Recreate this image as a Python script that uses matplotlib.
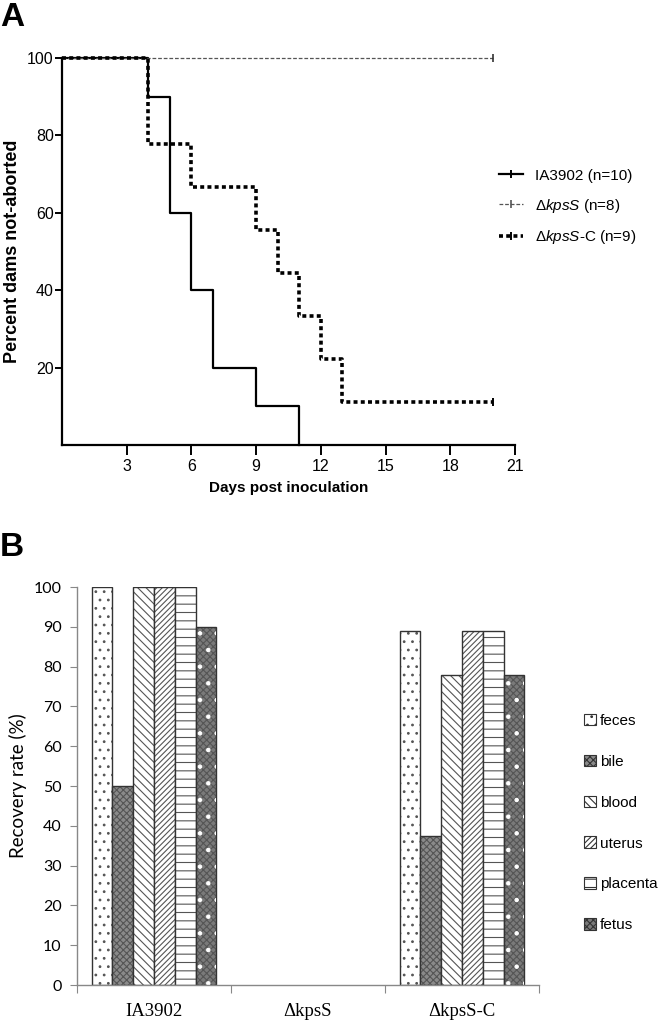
import numpy as np
import matplotlib
matplotlib.use("Agg")
import matplotlib.pyplot as plt
from matplotlib.lines import Line2D
from matplotlib.patches import Patch

# --- Dados painel A (curvas de sobrevida) ---
dias_ia3902 = [0, 4, 5, 6, 7, 9, 11]
surv_ia3902 = [100, 90, 60, 40, 20, 10, 0]
dias_kpss = [0, 20]
surv_kpss = [100, 100]
dias_kpssc = [0, 4, 6, 9, 10, 11, 12, 13, 20]
surv_kpssc = [100, 77.8, 66.7, 55.6, 44.4, 33.3, 22.2, 11.1, 11.1]
labels_a = ["IA3902 (n=10)", r"$\mathit{\Delta kpsS}$ (n=8)", r"$\mathit{\Delta kpsS}$-C (n=9)"]

# --- Dados painel B (taxa de recuperacao) ---
grupos = ["IA3902", "\u0394kpsS", "\u0394kpsS-C"]
tecidos = ["feces", "bile", "blood", "uterus", "placenta", "fetus"]
feces = [100, 0, 88.9]
bile = [50, 0, 37.5]
blood = [100, 0, 77.8]
uterus = [100, 0, 88.9]
placenta = [100, 0, 88.9]
fetus = [90, 0, 77.8]

plt.rcParams['mathtext.fontset'] = 'custom'
plt.rcParams['mathtext.it'] = 'Liberation Sans:italic'
plt.rcParams['mathtext.rm'] = 'Liberation Sans'
plt.rcParams['hatch.linewidth'] = 0.8

FONTE_A = ['Liberation Sans']

fig = plt.figure(figsize=(6.66, 10.22), dpi=100)

# ================= Painel A =================
axA = fig.add_axes([62/666, 1-445/1022, 453/666, 387/1022])
axA.step(dias_ia3902, surv_ia3902, where='post', color='black', lw=1.6, clip_on=False)
axA.plot(dias_kpss, surv_kpss, color='#555555', lw=0.9, ls=(0, (3, 1.5)), clip_on=False)
axA.plot([20], [100], marker='|', color='#333333', ms=6, mew=1.2, clip_on=False)
axA.step(dias_kpssc, surv_kpssc, where='post', color='black', lw=2.6, ls=(0, (1.1, 0.9)), clip_on=False)
axA.plot([20], [11.1], marker='|', color='black', ms=6, mew=1.4, clip_on=False)

axA.set_xlim(0, 21)
axA.set_ylim(0, 100)
axA.set_xticks([3, 6, 9, 12, 15, 18, 21])
axA.set_yticks([20, 40, 60, 80, 100])
for s in ['top', 'right']:
    axA.spines[s].set_visible(False)
for s in ['left', 'bottom']:
    axA.spines[s].set_linewidth(1.6)
axA.tick_params(axis='x', length=7, width=1.4, direction='out', pad=3)
axA.tick_params(axis='y', length=5, width=1.4, direction='out', pad=1)
for t in axA.get_xticklabels() + axA.get_yticklabels():
    t.set_family(FONTE_A)
    t.set_fontsize(11.5)
axA.set_xlabel("Days post inoculation", fontsize=11, fontweight='bold', family=FONTE_A, labelpad=5)
axA.set_ylabel("Percent dams not-aborted", fontsize=13, fontweight='bold', family=FONTE_A, labelpad=4)

hA = [Line2D([], [], color='black', lw=1.6, marker='|', ms=6, mew=1.4),
      Line2D([], [], color='#555555', lw=0.9, ls=(0, (3, 1.5)), marker='|', ms=6, mew=1.2),
      Line2D([], [], color='black', lw=2.6, ls=(0, (1.1, 0.9)), marker='|', ms=6, mew=1.4)]
fig.legend(hA, labels_a, loc='upper left', bbox_to_anchor=(485/666, 1-155/1022),
           frameon=False, handlelength=1.6, handletextpad=0.8, labelspacing=0.9,
           prop={'family': 'Liberation Sans', 'size': 11})

fig.text(0.0, 1-2/1022, "A", fontsize=24, fontweight='bold', family='Liberation Sans', va='top', ha='left')
fig.text(0.0, 1-532/1022, "B", fontsize=24, fontweight='bold', family='Liberation Sans', va='top', ha='left')

# ================= Painel B =================
axB = fig.add_axes([77/666, 1-985/1022, 462/666, 398/1022])
x = np.arange(len(grupos))
w = 0.135
edge = '#333333'
series = [feces, bile, blood, uterus, placenta, fetus]
estilos = [
    dict(facecolor='white', hatch='..'),
    dict(facecolor='#8a8a8a', hatch='xxxxx'),
    dict(facecolor='white', hatch='\\\\\\\\'),
    dict(facecolor='white', hatch='//////'),
    dict(facecolor='white', hatch='--'),
    dict(facecolor='#7a7a7a', hatch='xxxxx'),
]
for i, (vals, st) in enumerate(zip(series, estilos)):
    pos = x + (i - 2.5) * w
    lws = [1.0 if v > 0 else 0 for v in vals]
    axB.bar(pos, vals, width=w, color=st['facecolor'], edgecolor='#555555',
            hatch=st['hatch'], linewidth=0)
    axB.bar(pos, vals, width=w, fill=False, edgecolor=edge, linewidth=lws)
# pontos brancos no feto
axB.bar(x + 2.5 * w, fetus, width=w, fill=False, edgecolor='white', hatch='.', linewidth=0)

axB.set_xlim(-0.5, 2.5)
axB.set_ylim(0, 100)
axB.set_yticks(np.arange(0, 101, 10))
axB.set_xticks([-0.5, 0.5, 1.5, 2.5])
axB.set_xticklabels([])
axB.set_xticks(x, minor=True)
axB.set_xticklabels(grupos, minor=True, family='Liberation Serif', fontsize=13.5)
axB.tick_params(axis='x', which='minor', length=0, pad=13)
axB.tick_params(axis='x', which='major', length=6, color='#888888', direction='out')
axB.tick_params(axis='y', length=5, color='#888888', direction='out', labelsize=11.5, pad=6)
for t in axB.get_yticklabels():
    t.set_family(['Lato', 'Open Sans'])
for s in ['top', 'right']:
    axB.spines[s].set_visible(False)
for s in ['left', 'bottom']:
    axB.spines[s].set_color('#888888')
    axB.spines[s].set_linewidth(1.0)
axB.set_ylabel("Recovery rate (%)", fontsize=13.5, family=['Lato', 'Open Sans'], labelpad=5)

hB = [Patch(facecolor=st['facecolor'], edgecolor='#333333', hatch=st['hatch'], linewidth=0.8)
      for st in estilos]
fig.legend(hB, tecidos, loc='upper left', bbox_to_anchor=(570/666, 1-700/1022),
           frameon=False, handlelength=0.8, handleheight=0.8, handletextpad=0.25,
           labelspacing=1.75, prop={'family': 'Liberation Sans', 'size': 11})

fig.savefig("out.png", dpi=100)
